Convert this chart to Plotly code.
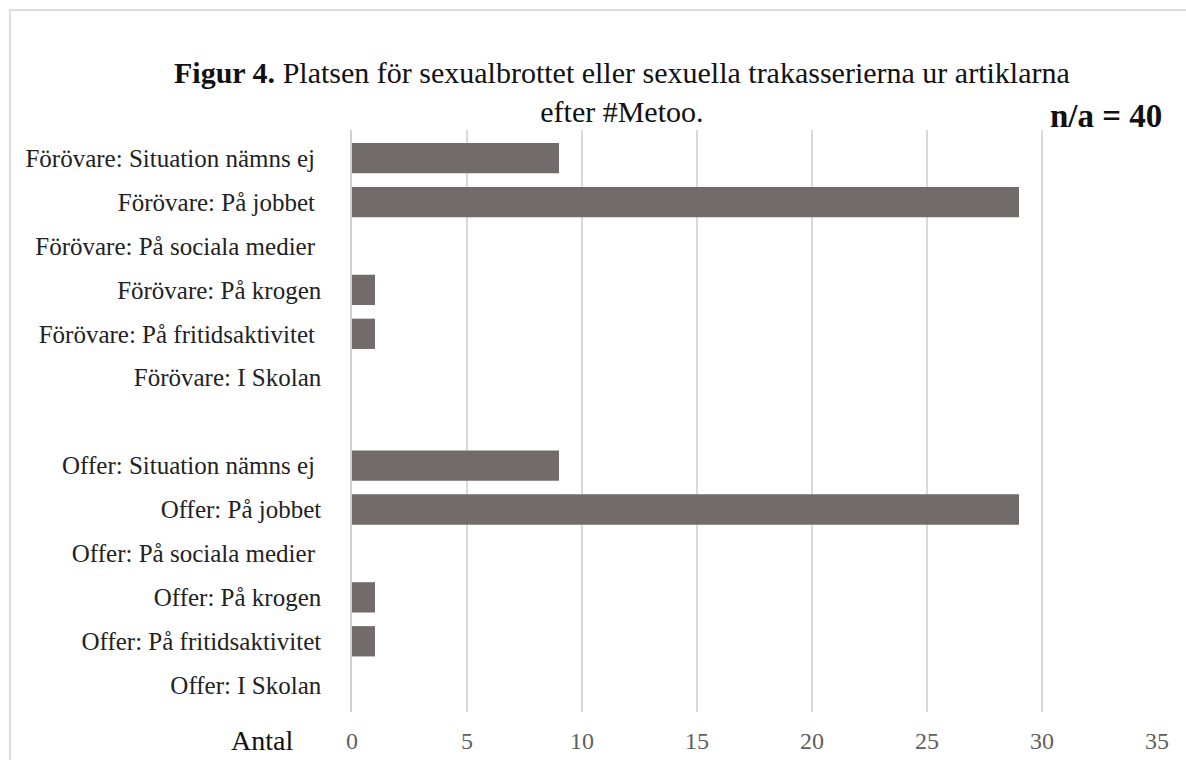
import plotly.graph_objects as go

categories = [
    "Förövare: Situation nämns ej ",
    "Förövare: På jobbet ",
    "Förövare: På sociala medier ",
    "Förövare: På krogen",
    "Förövare: På fritidsaktivitet ",
    "Förövare: I Skolan",
    " ",
    "Offer: Situation nämns ej ",
    "Offer: På jobbet",
    "Offer: På sociala medier ",
    "Offer: På krogen",
    "Offer: På fritidsaktivitet",
    "Offer: I Skolan",
]
values = [9, 29, 0, 1, 1, 0, None, 9, 29, 0, 1, 1, 0]
x_ticks = [0, 5, 10, 15, 20, 25, 30, 35]

SERIF = "Liberation Serif, Times New Roman, serif"

W, H = 1186, 760
L, R, T, B = 352, 1157, 130, 712

def px(x):
    return (x - L) / (R - L)

def py(y):
    return (B - y) / (B - T)

fig = go.Figure()
fig.add_trace(go.Bar(
    y=categories, x=values, orientation="h",
    marker=dict(color="#716c6b", line=dict(width=0)),
    hoverinfo="x+y",
))

fig.update_layout(
    width=W, height=H,
    margin=dict(l=L, r=W - R, t=T, b=H - B, autoexpand=False),
    paper_bgcolor="white", plot_bgcolor="white",
    showlegend=False,
    bargap=0.31,
    font=dict(family=SERIF, color="#222222"),
    xaxis=dict(
        range=[0, 35], tickvals=x_ticks, automargin=False,
        showgrid=True, gridcolor="#d9d9d9", gridwidth=1.5,
        zeroline=False, showline=False,
        tickfont=dict(family=SERIF, size=24, color="#606060"),
        ticks="", ticklabelstandoff=12,
    ),
    yaxis=dict(
        categoryorder="array", categoryarray=categories,
        type="category", range=[12.61, -0.64], automargin=False,
        showgrid=False, zeroline=False,
        showline=True, linecolor="#d0d0d0", linewidth=1.5,
        tickfont=dict(family=SERIF, size=25, color="#222222"),
        ticks="", ticklabelstandoff=24,
    ),
    shapes=[
        dict(type="rect", xref="paper", yref="paper",
             x0=px(10), x1=px(1300), y0=py(800), y1=py(10),
             line=dict(color="#dcdcdc", width=2), fillcolor="rgba(0,0,0,0)"),
    ],
    annotations=[
        dict(xref="paper", yref="paper", x=px(622), y=py(92),
             xanchor="center", yanchor="middle", showarrow=False, align="center",
             text="<b>Figur 4.</b> Platsen för sexualbrottet eller sexuella trakasserierna ur artiklarna<br>efter #Metoo.",
             font=dict(family=SERIF, size=30, color="#111111")),
        dict(xref="paper", yref="paper", x=px(1164), y=py(116),
             xanchor="right", yanchor="middle", showarrow=False,
             text="<b>n/a = 40</b>",
             font=dict(family=SERIF, size=33, color="#111111")),
        dict(xref="paper", yref="paper", x=px(262), y=py(740),
             xanchor="center", yanchor="middle", showarrow=False,
             text="Antal",
             font=dict(family=SERIF, size=28, color="#111111")),
    ],
)

fig.write_html("out.html", config={"displayModeBar": False},
               post_script="document.body.style.margin='0';")
